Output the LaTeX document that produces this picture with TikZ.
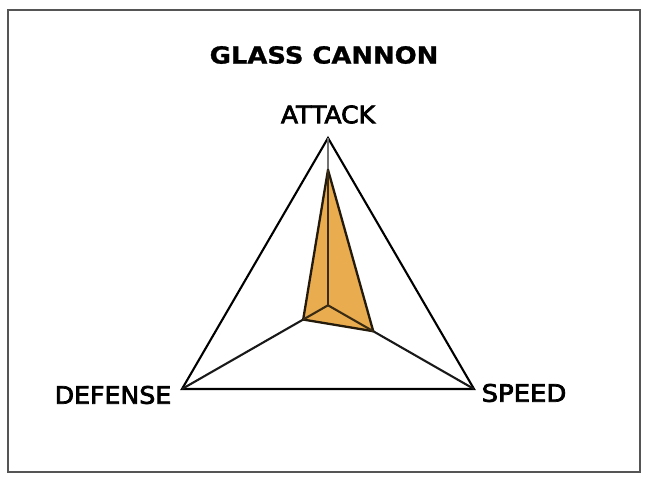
\documentclass[tikz,border=0pt]{standalone}
\usepackage{fontspec}
\setmainfont{DejaVu Sans}
\newfontfamily\titlefont[FakeBold=1]{DejaVu Sans Bold}
\newfontfamily\labelfont[FakeBold=3]{DejaVu Sans}
\usetikzlibrary{calc}
\definecolor{radarfill}{RGB}{233,172,78}
\definecolor{framegray}{RGB}{85,85,85}
\tikzset{
  axislabel/.style={font=\labelfont\fontsize{24}{24}\selectfont, inner sep=0pt, anchor=center},
  titlelabel/.style={font=\titlefont\fontsize{23.5}{24}\selectfont, inner sep=0pt, anchor=center},
  outline/.style={draw=black, line width=2.1pt, line join=miter},
  spoke/.style={draw=black!90, line width=2.1pt},
  spokeup/.style={draw=black!55, line width=1.8pt},
  radar/.style={fill=radarfill, draw=black!85!radarfill, line width=2.3pt, line join=round},
  innerspoke/.style={draw=black!75!radarfill, line width=2.1pt},
}
\begin{document}
\begin{tikzpicture}[x=1pt,y=-1pt]
\useasboundingbox (0,0) rectangle (650,484);
\fill[white] (0,0) rectangle (650,484);
\draw[framegray, line width=2.4pt] (8,10) rectangle (640,472);

\coordinate (A) at (328,138);
\coordinate (D) at (182,389);
\coordinate (S) at (474,389);
\coordinate (O) at (328,305.3);

\coordinate (a) at ($(O)!0.81!(A)$);
\coordinate (d) at ($(O)!0.17!(D)$);
\coordinate (s) at ($(O)!0.31!(S)$);

% outer triangle
\draw[outline] (A) -- (D) -- (S) -- cycle;
% spokes
\draw[spokeup] (O) -- (A);
\draw[spoke] (O) -- (D);
\draw[spoke] (O) -- (S);
% radar polygon
\draw[radar] (a) -- (d) -- (s) -- cycle;
\draw[innerspoke] (O) -- (a);
\draw[innerspoke] (O) -- (d);
\draw[innerspoke] (O) -- (s);

% labels
\node[titlelabel] (title) at (324,55) {\scalebox{1.1}[1]{GLASS CANNON}};
\node[axislabel] (attack) at (328,114.5) {\scalebox{1.045}[1]{ATTACK}};
\node[axislabel] (defense) at (113,395) {\scalebox{1.05}[1]{DEFENSE}};
\node[axislabel] (speed) at (524,393) {\scalebox{1.08}[1]{SPEED}};
\end{tikzpicture}
\end{document}
